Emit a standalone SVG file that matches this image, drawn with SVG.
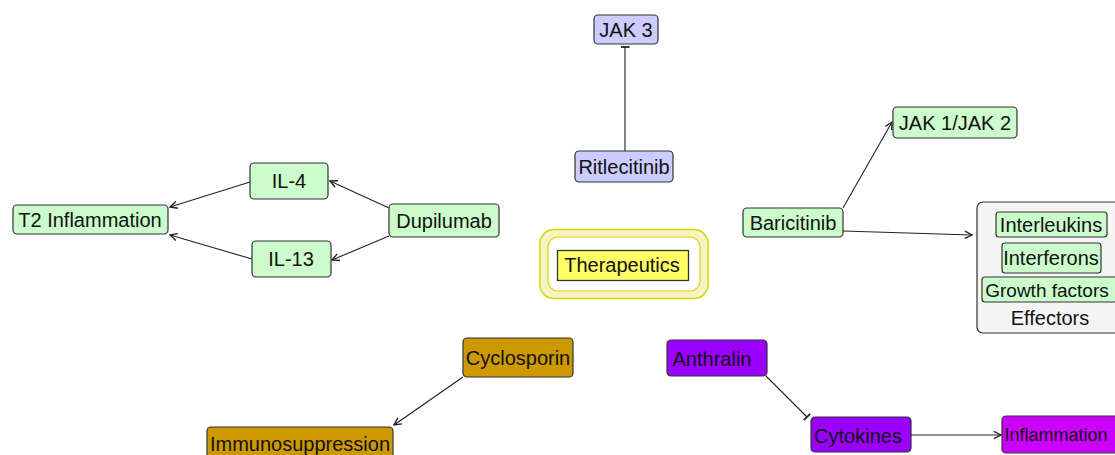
<svg xmlns="http://www.w3.org/2000/svg" width="1115" height="455" viewBox="0 0 1115 455">
<style>
text{font-family:"Liberation Sans",Arial,sans-serif;font-size:20px;fill:#111;text-anchor:middle;dominant-baseline:central}
.b{stroke:#333;stroke-width:1.2}
.g{fill:#ccfccc}
.l{fill:#ccccff}
.e{fill:none;stroke:#222;stroke-width:1.1}
</style>
<defs>
<marker id="a" viewBox="0 0 10 10" refX="9" refY="5" markerWidth="9" markerHeight="9" markerUnits="userSpaceOnUse" orient="auto"><path d="M1,1 L9,5 L1,9" fill="none" stroke="#222" stroke-width="1.5"/></marker>
<marker id="t" viewBox="0 0 10 10" refX="5" refY="5" markerWidth="9" markerHeight="9" markerUnits="userSpaceOnUse" orient="auto"><path d="M5,0 L5,10" fill="none" stroke="#222" stroke-width="2"/></marker>
</defs>
<rect width="1115" height="455" fill="#fff"/>
<g id="connectors">
<path class="e" d="M625,151 L625,47" marker-end="url(#t)"/>
<path class="e" d="M250,182 L170,207" marker-end="url(#a)"/>
<path class="e" d="M252,259 L170,235" marker-end="url(#a)"/>
<path class="e" d="M389,208 L330,181" marker-end="url(#a)"/>
<path class="e" d="M389,236 L332,260" marker-end="url(#a)"/>
<path class="e" d="M843,208 L892,122" marker-end="url(#a)"/>
<path class="e" d="M843,231 L972,235" marker-end="url(#a)"/>
<path class="e" d="M463,377 L394,425" marker-end="url(#a)"/>
<path class="e" d="M766,376 L807,417" marker-end="url(#t)"/>
<path class="e" d="M911,435 L1001,435" marker-end="url(#a)"/>
</g>
<g id="jak3"><rect class="b l" x="594" y="15" width="64" height="29" rx="4"/><text x="626" y="30">JAK 3</text></g>
<g id="ritlecitinib"><rect class="b l" x="575" y="151" width="98" height="31" rx="4"/><text x="624" y="167">Ritlecitinib</text></g>
<g id="therapeutics">
<rect x="540" y="229.5" width="168" height="69" rx="14" fill="#f4f4c4" stroke="#d8d800" stroke-width="1.5"/>
<rect x="548" y="237" width="152" height="54" rx="10" fill="#fff" stroke="#d8d800" stroke-width="1.2"/>
<rect x="557.5" y="250.5" width="131" height="30" fill="#ffff66" stroke="#333" stroke-width="1.3"/>
<text x="622" y="265">Therapeutics</text>
</g>
<g id="t2"><rect class="b g" x="13" y="205" width="155" height="29" rx="4"/><text x="90" y="220">T2 Inflammation</text></g>
<g id="il4"><rect class="b g" x="250" y="163" width="78" height="36" rx="4"/><text x="289" y="181">IL-4</text></g>
<g id="il13"><rect class="b g" x="252" y="241" width="79" height="36" rx="4"/><text x="291" y="259">IL-13</text></g>
<g id="dupilumab"><rect class="b g" x="389" y="204" width="110" height="33" rx="4"/><text x="444" y="221">Dupilumab</text></g>
<g id="jak12"><rect class="b g" x="893" y="107" width="124" height="31" rx="4"/><text x="955" y="123">JAK 1/JAK 2</text></g>
<g id="baricitinib"><rect class="b g" x="743" y="208" width="100" height="29" rx="4"/><text x="793" y="223">Baricitinib</text></g>
<g id="effectors">
<rect x="977" y="202" width="145" height="131" rx="6" fill="#f5f5f5" stroke="#333" stroke-width="1.2"/>
<rect class="b g" x="996" y="212" width="111" height="25" rx="3"/><text x="1051" y="225">Interleukins</text>
<rect class="b g" x="1002" y="243" width="99" height="30" rx="3"/><text x="1051" y="258">Interferons</text>
<rect class="b g" x="982" y="277" width="140" height="25" rx="3"/><text x="1047" y="290" style="font-size:19px">Growth factors</text>
<text x="1050" y="318">Effectors</text>
</g>
<g id="cyclosporin"><rect class="b" fill="#cc9900" x="463" y="338" width="110" height="39" rx="4"/><text x="518" y="358">Cyclosporin</text></g>
<g id="immuno"><rect class="b" fill="#cc9900" x="207" y="427" width="186" height="36" rx="4"/><text x="300" y="444">Immunosuppression</text></g>
<g id="anthralin"><rect class="b" fill="#9900ff" x="667" y="340" width="100" height="36" rx="4"/><text x="712" y="359">Anthralin</text></g>
<g id="cytokines"><rect class="b" fill="#9900ff" x="811" y="417" width="100" height="35" rx="4"/><text x="858" y="436">Cytokines</text></g>
<g id="inflammation"><rect class="b" fill="#cc00ff" x="1002" y="416" width="120" height="37" rx="4"/><text x="1056" y="435" style="font-size:18px">Inflammation</text></g>
</svg>
